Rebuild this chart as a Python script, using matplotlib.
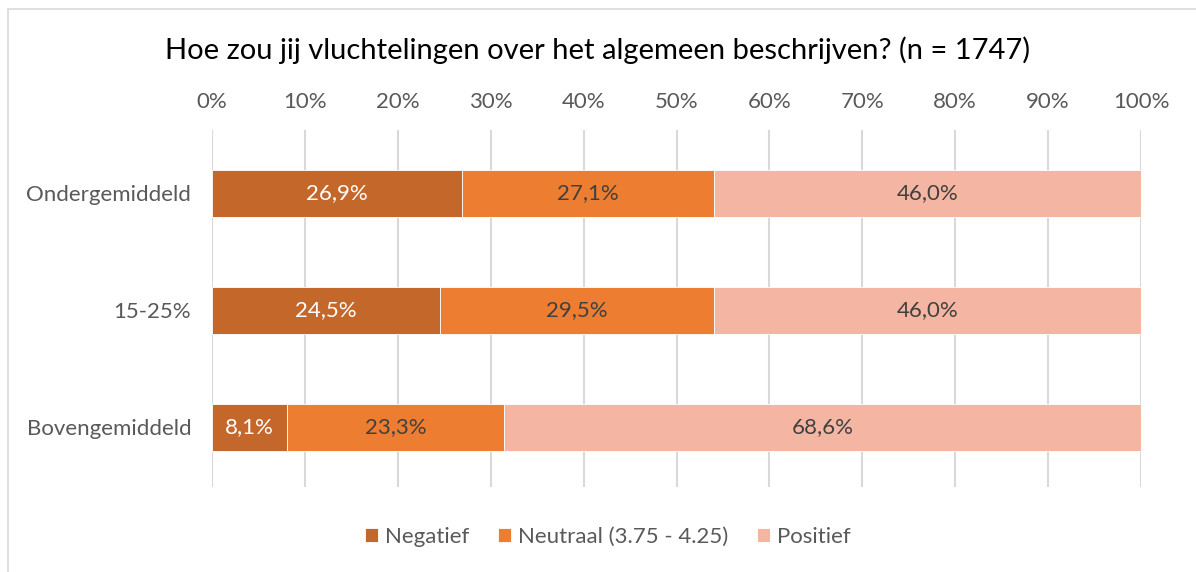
import matplotlib.pyplot as plt
from matplotlib.patches import Rectangle

plt.rcParams['font.family'] = ['Lato', 'DejaVu Sans']

categories = ['Ondergemiddeld', '15-25%', 'Bovengemiddeld']
series_names = ['Negatief', 'Neutraal (3.75 - 4.25)', 'Positief']
negatief = [26.9, 24.5, 8.1]
neutraal = [27.1, 29.5, 23.3]
positief = [46.0, 46.0, 68.6]
colors = ['#C4672A', '#ED7D31', '#F4B6A2']
label_colors = ['white', '#404040', '#404040']
title = 'Hoe zou jij vluchtelingen over het algemeen beschrijven? (n = 1747)'

W, H = 1196, 572
fig = plt.figure(figsize=(W / 100, H / 100), dpi=100)

# chart frame like excel (only top/left visible in the crop)
fig.patches.append(Rectangle((8 / W, -0.1), 1.2, 1 - 9 / H + 0.1,
                             transform=fig.transFigure, fill=False,
                             edgecolor='#D9D9D9', linewidth=1.2))

ax = fig.add_axes([212 / W, 1 - 487 / H, (1141 - 212) / W, (487 - 130) / H])

ypos = list(range(len(categories)))
left = [0.0] * len(categories)
for vals, name, col, lc in zip([negatief, neutraal, positief], series_names, colors, label_colors):
    bars = ax.barh(ypos, vals, left=left, height=0.4, color=col, label=name,
                   edgecolor='white', linewidth=0.6, zorder=3)
    for b, v in zip(bars, vals):
        ax.text(b.get_x() + b.get_width() / 2, b.get_y() + b.get_height() / 2,
                f'{v:.1f}%'.replace('.', ','), ha='center', va='center',
                color=lc, fontsize=16, zorder=4)
    left = [a + b for a, b in zip(left, vals)]

ax.set_xlim(0, 100)
ax.set_ylim(2.51, -0.54)
ax.set_yticks(ypos)
ax.set_yticklabels(categories)
ax.set_xticks(range(0, 101, 10))
ax.set_xticklabels([f'{t}%' for t in range(0, 101, 10)])
ax.xaxis.tick_top()
ax.tick_params(axis='both', length=0, labelsize=16, labelcolor='#595959')
ax.tick_params(axis='x', pad=13)
ax.tick_params(axis='y', pad=15)
ax.grid(axis='x', color='#D9D9D9', linewidth=1.5, zorder=0)
for s in ax.spines.values():
    s.set_visible(False)

fig.text(0.5, 1 - 50 / H, title, ha='center', va='center', fontsize=21, color='black')

fig.legend(loc='center', bbox_to_anchor=(0.508, 1 - 537 / H), ncol=3, frameon=False,
           fontsize=16, labelcolor='#595959', handlelength=0.6, handleheight=0.6,
           handletextpad=0.3, columnspacing=1.3)

fig.savefig('out.png', dpi=100)
